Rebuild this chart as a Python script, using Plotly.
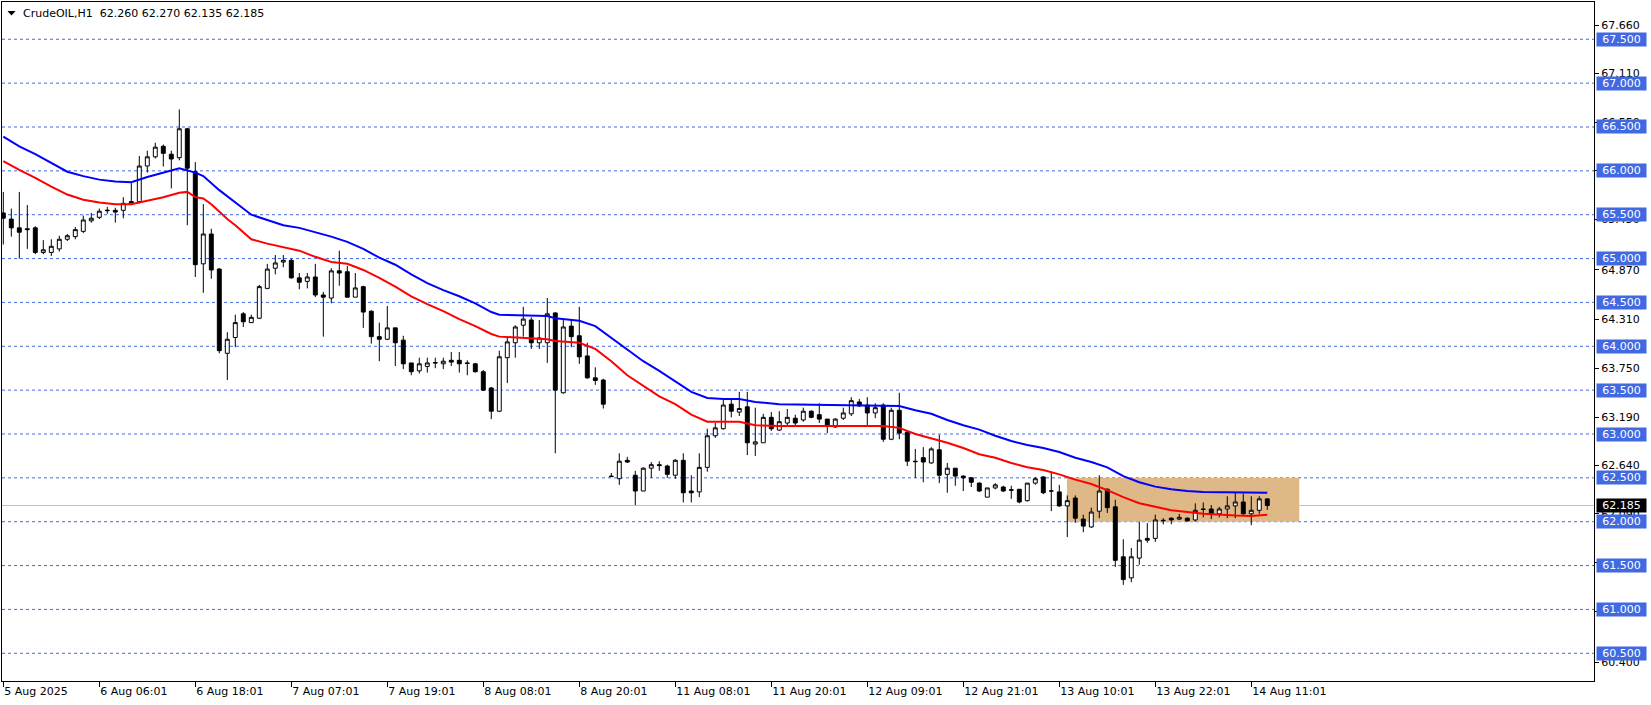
import plotly.graph_objects as go

# ---------------- data ----------------
bar_idx = list(range(159))

opens = [65.52, 65.45, 65.35, 65.34, 65.35, 65.07, 65.07, 65.11, 65.22, 65.25,
         65.31, 65.43, 65.47, 65.545, 65.55, 65.55, 65.62, 65.65, 66.055, 66.16,
         66.28, 66.19, 66.15, 66.48, 65.99, 64.94, 65.28, 64.88, 63.92, 64.10,
         64.37, 64.27, 64.32, 64.66, 64.89, 64.96, 64.98, 64.78, 64.74, 64.79,
         64.585, 64.55, 64.86, 64.85, 64.56, 64.68, 64.40, 64.11, 64.08, 64.21,
         64.07, 63.81, 63.72, 63.77, 63.815, 63.80, 63.84, 63.84, 63.81, 63.80,
         63.71, 63.525, 63.26, 63.87, 64.04, 64.24, 64.30, 64.04, 64.04, 64.38,
         63.47, 64.23, 64.12, 63.89, 63.64, 63.615, 62.52, 62.49, 62.70, 62.53,
         62.35, 62.61, 62.65, 62.635, 62.53, 62.70, 62.35, 62.34, 62.62, 62.98,
         63.06, 63.34, 63.25, 63.31, 62.885, 62.90, 63.19, 63.045, 63.125, 63.18,
         63.16, 63.26, 63.22, 63.17, 63.08, 63.18, 63.23, 63.365, 63.33, 63.24,
         63.33, 62.94, 63.27, 63.02, 62.69, 62.73, 62.67, 62.82, 62.54, 62.61,
         62.52, 62.50, 62.44, 62.28, 62.385, 62.396, 62.365, 62.37, 62.24, 62.44,
         62.51, 62.35, 62.34, 62.18, 62.27, 62.03, 61.94, 62.12, 62.37, 62.17,
         61.60, 61.36, 61.585, 61.81, 61.81, 62.01, 62.04, 62.03, 62.04, 62.02,
         62.145, 62.145, 62.09, 62.145, 62.18, 62.225, 62.09, 62.13, 62.26]
highs = [65.76, 65.57, 65.76, 65.61, 65.37, 65.21, 65.22, 65.26, 65.28, 65.36,
         65.49, 65.52, 65.57, 65.59, 65.58, 65.70, 65.86, 66.17, 66.23, 66.32,
         66.30, 66.23, 66.70, 66.49, 66.10, 65.62, 65.34, 64.89, 64.16, 64.36,
         64.39, 64.36, 64.70, 64.94, 65.04, 65.04, 65.00, 64.835, 64.835, 64.94,
         64.62, 64.89, 65.09, 64.915, 64.835, 64.69, 64.41, 64.27, 64.46, 64.21,
         64.12, 63.81, 63.87, 63.87, 63.87, 63.87, 63.935, 63.935, 63.84, 63.81,
         63.73, 63.535, 63.95, 64.11, 64.24, 64.45, 64.33, 64.30, 64.55, 64.39,
         64.32, 64.30, 64.45, 64.04, 63.76, 63.63, 62.555, 62.78, 62.74, 62.58,
         62.62, 62.68, 62.69, 62.65, 62.715, 62.78, 62.53, 62.78, 63.06, 63.125,
         63.39, 63.39, 63.48, 63.48, 63.30, 63.23, 63.25, 63.26, 63.285, 63.22,
         63.30, 63.27, 63.35, 63.17, 63.18, 63.30, 63.42, 63.40, 63.42, 63.35,
         63.35, 63.30, 63.47, 63.035, 62.83, 62.85, 62.85, 62.99, 62.67, 62.61,
         62.53, 62.51, 62.45, 62.385, 62.44, 62.41, 62.41, 62.37, 62.44, 62.51,
         62.52, 62.57, 62.42, 62.30, 62.30, 62.08, 62.16, 62.53, 62.38, 62.25,
         61.80, 61.70, 62.00, 61.985, 62.08, 62.04, 62.05, 62.09, 62.05, 62.21,
         62.22, 62.19, 62.17, 62.29, 62.33, 62.32, 62.29, 62.29, 62.27]
lows = [65.16, 65.25, 65.00, 65.11, 65.05, 65.05, 65.03, 65.08, 65.20, 65.22,
        65.29, 65.41, 65.45, 65.51, 65.41, 65.46, 65.61, 65.63, 65.98, 66.14,
        66.05, 65.80, 66.12, 65.38, 64.79, 64.61, 64.77, 63.92, 63.615, 63.99,
        64.22, 64.27, 64.31, 64.65, 64.82, 64.90, 64.77, 64.65, 64.66, 64.56,
        64.11, 64.49, 64.69, 64.56, 64.56, 64.21, 64.03, 63.83, 64.07, 63.775,
        63.74, 63.67, 63.69, 63.70, 63.75, 63.74, 63.775, 63.70, 63.67, 63.70,
        63.49, 63.17, 63.25, 63.58, 63.87, 64.11, 63.97, 63.97, 63.81, 62.78,
        63.46, 63.99, 63.80, 63.63, 63.56, 63.29, 62.51, 62.42, 62.67, 62.19,
        62.35, 62.50, 62.58, 62.50, 62.49, 62.22, 62.22, 62.28, 62.57, 62.955,
        63.05, 63.19, 63.205, 62.76, 62.75, 62.90, 63.035, 63.035, 63.10, 63.10,
        63.14, 63.18, 63.125, 63.01, 63.07, 63.16, 63.205, 63.31, 63.10, 63.18,
        62.91, 62.93, 62.94, 62.635, 62.50, 62.45, 62.66, 62.44, 62.33, 62.41,
        62.35, 62.395, 62.34, 62.28, 62.37, 62.34, 62.26, 62.21, 62.23, 62.42,
        62.315, 62.12, 62.17, 61.825, 61.985, 61.88, 61.93, 62.04, 62.10, 61.485,
        61.28, 61.31, 61.51, 61.76, 61.77, 61.97, 61.97, 62.02, 62.00, 62.00,
        62.05, 62.03, 62.05, 62.04, 62.04, 62.08, 61.96, 62.09, 62.135]
closes = [65.46, 65.35, 65.30, 65.33, 65.07, 65.10, 65.14, 65.22, 65.26, 65.33,
          65.44, 65.46, 65.54, 65.55, 65.53, 65.63, 65.65, 66.055, 66.16, 66.27,
          66.20, 66.135, 66.48, 66.03, 64.93, 65.28, 64.87, 63.95, 64.08, 64.27,
          64.28, 64.33, 64.68, 64.88, 64.95, 64.98, 64.78, 64.73, 64.79, 64.585,
          64.56, 64.86, 64.835, 64.56, 64.665, 64.39, 64.11, 64.08, 64.21, 64.04,
          63.80, 63.71, 63.80, 63.81, 63.81, 63.83, 63.82, 63.80, 63.805, 63.71,
          63.50, 63.26, 63.88, 64.05, 64.22, 64.31, 64.04, 64.095, 64.37, 63.50,
          64.22, 64.11, 63.88, 63.64, 63.61, 63.34, 62.515, 62.69, 62.68, 62.35,
          62.61, 62.65, 62.64, 62.54, 62.70, 62.33, 62.33, 62.62, 62.98, 63.07,
          63.33, 63.26, 63.29, 62.90, 62.91, 63.19, 63.06, 63.14, 63.19, 63.125,
          63.26, 63.19, 63.17, 63.09, 63.17, 63.24, 63.38, 63.32, 63.24, 63.30,
          62.94, 63.27, 63.01, 62.69, 62.685, 62.68, 62.83, 62.53, 62.61, 62.52,
          62.50, 62.45, 62.35, 62.385, 62.42, 62.35, 62.36, 62.225, 62.44, 62.49,
          62.33, 62.35, 62.18, 62.24, 62.04, 61.95, 62.11, 62.35, 62.16, 61.56,
          61.34, 61.60, 61.79, 61.79, 62.02, 62.015, 62.02, 62.05, 62.01, 62.13,
          62.14, 62.09, 62.145, 62.18, 62.225, 62.09, 62.13, 62.26, 62.185]

# slow moving average (blue), read at selected bars
ma_slow_bars = [0, 2, 4, 6, 8, 10, 12, 14, 16, 18,
                20, 22, 24, 25, 27, 29, 31, 33, 35, 37,
                39, 41, 43, 45, 47, 49, 51, 53, 55, 57,
                59, 61, 62, 66, 68, 69, 72, 74, 76, 78,
                80, 82, 84, 86, 88, 90, 92, 94, 97, 110,
                112, 114, 116, 118, 120, 122, 124, 126, 128, 130,
                132, 134, 136, 138, 140, 142, 144, 146, 148, 150,
                158]
ma_slow_vals = [66.39, 66.28, 66.19, 66.09, 65.99, 65.94, 65.90, 65.88, 65.87, 65.93,
                65.98, 66.03, 65.98, 65.94, 65.78, 65.645, 65.50, 65.44, 65.38, 65.35,
                65.30, 65.25, 65.19, 65.11, 65.01, 64.93, 64.82, 64.72, 64.64, 64.57,
                64.49, 64.39, 64.36, 64.345, 64.345, 64.32, 64.29, 64.23, 64.10, 63.96,
                63.83, 63.72, 63.60, 63.48, 63.41, 63.40, 63.40, 63.365, 63.34, 63.33,
                63.32, 63.27, 63.23, 63.16, 63.10, 63.05, 62.98, 62.92, 62.875, 62.84,
                62.795, 62.73, 62.68, 62.62, 62.52, 62.45, 62.40, 62.37, 62.35, 62.34,
                62.33]

# fast moving average (red), read at selected bars
ma_fast_bars = [0, 2, 4, 5, 6, 8, 10, 12, 14, 16,
                18, 20, 22, 23, 24, 25, 26, 27, 28, 29,
                30, 31, 33, 35, 37, 39, 41, 43, 45, 47,
                49, 51, 53, 55, 57, 59, 61, 62, 66, 68,
                69, 72, 74, 76, 78, 80, 82, 84, 86, 88,
                92, 94, 97, 110, 112, 114, 116, 118, 120, 122,
                124, 126, 128, 130, 132, 134, 136, 138, 140, 142,
                144, 146, 148, 150, 154, 156, 158]
ma_fast_vals = [66.11, 66.01, 65.92, 65.87, 65.82, 65.73, 65.67, 65.64, 65.62, 65.62,
                65.66, 65.70, 65.75, 65.76, 65.70, 65.685, 65.62, 65.53, 65.45, 65.38,
                65.30, 65.22, 65.17, 65.13, 65.09, 65.02, 64.96, 64.94, 64.87, 64.78,
                64.68, 64.57, 64.48, 64.40, 64.31, 64.23, 64.14, 64.11, 64.095, 64.08,
                64.06, 64.04, 63.97, 63.83, 63.67, 63.55, 63.43, 63.34, 63.22, 63.14,
                63.14, 63.10, 63.09, 63.09, 63.07, 63.00, 62.95, 62.90, 62.84, 62.77,
                62.73, 62.67, 62.62, 62.59, 62.54, 62.48, 62.43, 62.36, 62.28, 62.21,
                62.17, 62.13, 62.11, 62.09, 62.07, 62.065, 62.08]

time_tick_bars = [0, 12, 24, 36, 48, 60, 72, 84, 96, 108, 120, 132, 144, 156]
time_tick_labels = ["5 Aug 2025", "6 Aug 06:01", "6 Aug 18:01", "7 Aug 07:01",
                    "7 Aug 19:01", "8 Aug 08:01", "8 Aug 20:01", "11 Aug 08:01",
                    "11 Aug 20:01", "12 Aug 09:01", "12 Aug 21:01", "13 Aug 10:01",
                    "13 Aug 22:01", "14 Aug 11:01"]

price_ticks = [67.660, 67.110, 66.550, 66.000, 65.450, 64.870, 64.310,
               63.750, 63.190, 62.640, 62.090, 61.530, 60.980, 60.400]
level_prices = [60.5, 61.0, 61.5, 62.0, 62.5, 63.0, 63.5, 64.0,
                64.5, 65.0, 65.5, 66.0, 66.5, 67.0, 67.5]
last_price = 62.185
header_text = "CrudeOIL,H1  62.260 62.270 62.135 62.185"
zone_bars = [132.95, 162.0]
zone_prices = [62.0, 62.5]

x_view = [-0.1625, 198.84]
y_view = [60.184, 67.925]

assert len(opens) == len(highs) == len(lows) == len(closes) == len(bar_idx)
assert len(ma_slow_bars) == len(ma_slow_vals)
assert len(ma_fast_bars) == len(ma_fast_vals)

# ---------------- styles ----------------
FONT = "DejaVu Sans"
LEVEL_BLUE = "#4169E1"

fig = go.Figure()

fig.add_trace(go.Candlestick(
    x=bar_idx, open=opens, high=highs, low=lows, close=closes,
    increasing=dict(fillcolor="white", line=dict(color="black", width=1)),
    decreasing=dict(fillcolor="black", line=dict(color="black", width=1)),
    whiskerwidth=0, hoverinfo="skip", showlegend=False,
))
fig.add_trace(go.Scatter(x=ma_slow_bars, y=ma_slow_vals, mode="lines",
                         line=dict(color="#0000FF", width=2), hoverinfo="skip", showlegend=False))
fig.add_trace(go.Scatter(x=ma_fast_bars, y=ma_fast_vals, mode="lines",
                         line=dict(color="#FF0000", width=2), hoverinfo="skip", showlegend=False))

shapes = []
shapes.append(dict(type="rect", xref="x", yref="y", x0=zone_bars[0], x1=zone_bars[1],
                   y0=zone_prices[0], y1=zone_prices[1], fillcolor="#DEB887",
                   line=dict(width=0), layer="below"))
for p in level_prices:
    shapes.append(dict(type="line", xref="paper", yref="y", x0=0, x1=1, y0=p, y1=p,
                       line=dict(color=LEVEL_BLUE, width=1, dash="3px,3px"), layer="below"))
shapes.append(dict(type="line", xref="paper", yref="y", x0=0, x1=1, y0=last_price, y1=last_price,
                   line=dict(color="#C0C0C0", width=1), layer="below"))
# small down triangle of the header
shapes.append(dict(type="path", xref="paper", yref="paper", xsizemode="pixel", ysizemode="pixel",
                   xanchor=0, yanchor=1, path="M 5.5,-9 L 13.5,-9 L 9.5,-13.5 Z",
                   fillcolor="black", line=dict(width=0)))

annotations = []
for p in level_prices:
    annotations.append(dict(x=1, xref="paper", y=p, yref="y", xanchor="left", yanchor="middle",
                            xshift=2, text=f"{p:.3f}", showarrow=False, bgcolor=LEVEL_BLUE,
                            font=dict(family=FONT, size=11, color="white"),
                            width=47, height=11, borderpad=1))
annotations.append(dict(x=1, xref="paper", y=last_price, yref="y", xanchor="left", yanchor="middle",
                        xshift=2, text=f"{last_price:.3f}", showarrow=False, bgcolor="black",
                        font=dict(family=FONT, size=11, color="white"),
                        width=47, height=11, borderpad=1))
annotations.append(dict(x=0, xref="paper", y=1, yref="paper", xanchor="left", yanchor="top",
                        xshift=19, yshift=-3, text=header_text, showarrow=False,
                        font=dict(family=FONT, size=11, color="black")))

fig.update_layout(
    width=1651, height=705,
    margin=dict(l=2, r=57, t=2, b=24),
    paper_bgcolor="white", plot_bgcolor="white",
    showlegend=False,
    font=dict(family=FONT, size=11, color="black"),
    shapes=shapes, annotations=annotations,
    xaxis=dict(range=x_view, rangeslider=dict(visible=False), showgrid=False, zeroline=False,
               tickmode="array", tickvals=time_tick_bars, ticktext=time_tick_labels,
               ticks="outside", ticklen=5, tickcolor="black", tickwidth=1,
               ticklabelposition="outside right",
               showline=True, linecolor="black", linewidth=1, mirror=True,
               tickfont=dict(family=FONT, size=11, color="black"), fixedrange=True),
    yaxis=dict(range=y_view, side="right", showgrid=False, zeroline=False,
               tickmode="array", tickvals=price_ticks, ticktext=[f"{v:.3f}" for v in price_ticks],
               ticks="outside", ticklen=4, tickcolor="black", tickwidth=1,
               showline=True, linecolor="black", linewidth=1, mirror=True,
               tickfont=dict(family=FONT, size=11, color="black"), fixedrange=True),
)

fig.write_html("out.html", config={"displayModeBar": False},
               post_script="document.body.style.margin='0px';")
